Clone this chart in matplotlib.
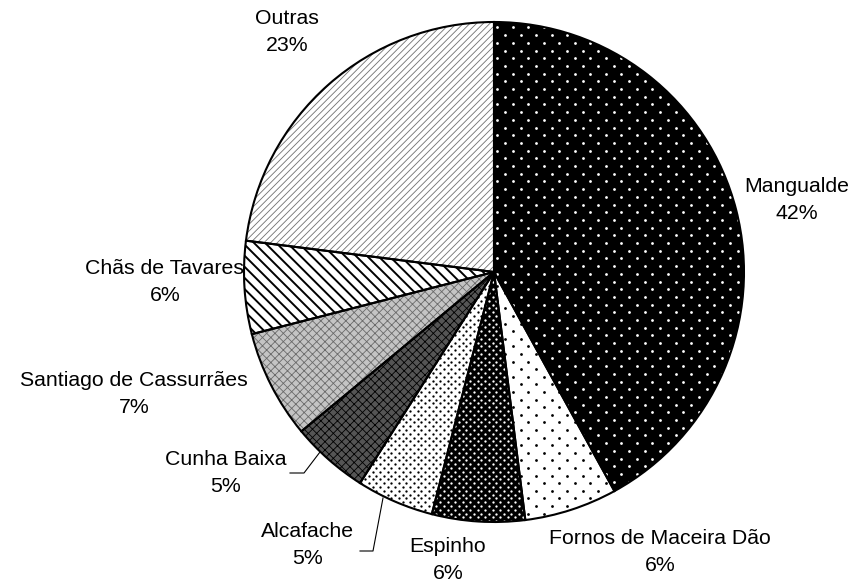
import matplotlib

matplotlib.use("Agg")
import matplotlib.pyplot as plt
import numpy as np

plt.rcParams["font.family"] = ["Liberation Sans", "DejaVu Sans"]
plt.rcParams["hatch.linewidth"] = 0.6

labels = [
    "Mangualde",
    "Fornos de Maceira Dão",
    "Espinho",
    "Alcafache",
    "Cunha Baixa",
    "Santiago de Cassurrães",
    "Chãs de Tavares",
    "Outras",
]
shares = [42, 6, 6, 5, 5, 7, 6, 23]

# fill colour per slice, plus either a dot texture or a hatch pattern
faces = ["black", "white", "black", "white", "#555555", "#c4c4c4", "white", "white"]
hatches = [None, None, None, None, "xxxx", "xxxx", "\\\\\\", "/////"]
hatch_colors = [None, None, None, None, "black", "#6a6a6a", "black", "#707070"]
# dot texture: (dot colour, column step px, row step px, dot size)
dots = [
    ("white", 15.5, 7.7, 4.0),
    ("black", 15.5, 7.6, 4.0),
    ("white", 7.5, 3.8, 2.8),
    ("black", 7.5, 3.8, 2.8),
    None,
    None,
    None,
    None,
]

# label centres in pixel coords (x, y from top)
label_pos = [
    (797, 200),
    (660, 552),
    (448, 560),
    (308, 545),
    (226, 473),
    (134, 394),
    (165, 282),
    (287, 32),
]

W, H = 856, 586
CX, CY, R = 494, 272, 250


def dot_lattice(col_step: float, row_step: float) -> tuple[np.ndarray, np.ndarray]:
    xs, ys = [], []
    rows = np.arange(CY - R - 10, CY + R + 10, row_step)
    for i, y in enumerate(rows):
        shift = col_step / 2 if i % 2 else 0.0
        cols = np.arange(CX - R - 10 + shift, CX + R + 10, col_step)
        xs.append(cols)
        ys.append(np.full(cols.shape, y))
    return np.concatenate(xs), H - np.concatenate(ys)


def main() -> None:
    fig = plt.figure(figsize=(W / 100, H / 100), dpi=100)
    ax = fig.add_axes([0, 0, 1, 1])

    fills, _ = ax.pie(
        shares,
        startangle=90,
        counterclock=False,
        center=(CX, H - CY),
        radius=R,
        frame=False,
        wedgeprops=dict(linewidth=0),
    )
    for wedge, face, hatch, hc, dot in zip(fills, faces, hatches, hatch_colors, dots):
        wedge.set_facecolor(face)
        if hatch:
            wedge.set_hatch(hatch)
            wedge.set_edgecolor(hc)
            if hatch.startswith("\\") and hasattr(wedge, "set_hatch_linewidth"):
                wedge.set_hatch_linewidth(1.4)
        else:
            wedge.set_edgecolor(face)
        if dot:
            color, cstep, rstep, size = dot
            px, py = dot_lattice(cstep, rstep)
            pts = ax.scatter(px, py, s=size, c=color, marker="o", linewidths=0, zorder=wedge.get_zorder())
            pts.set_clip_path(wedge)

    ax.pie(
        shares,
        startangle=90,
        counterclock=False,
        center=(CX, H - CY),
        radius=R,
        frame=False,
        wedgeprops=dict(facecolor="none", edgecolor="black", linewidth=1.5),
    )

    for name, pct, (x, y) in zip(labels, shares, label_pos):
        ax.text(x, H - y, f"{name}\n{pct}%", ha="center", va="center",
                fontsize=15.3, linespacing=1.55, color="black")

    # leader lines for the two small slices
    ax.plot([290, 304, 320], [H - 473, H - 473, H - 452], color="black", lw=0.8)
    ax.plot([360, 373, 383], [H - 551, H - 551, H - 498], color="black", lw=0.8)

    ax.set_xlim(0, W)
    ax.set_ylim(0, H)
    ax.set_aspect("equal")
    ax.axis("off")
    fig.savefig("out.png", dpi=100, facecolor="white")
    plt.close(fig)


if __name__ == "__main__":
    main()
